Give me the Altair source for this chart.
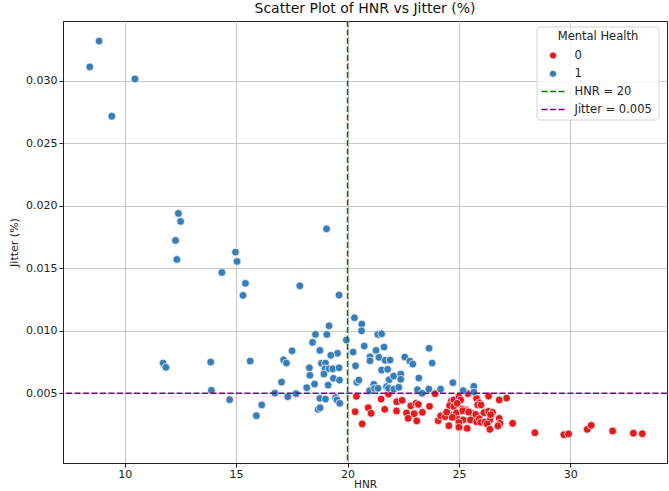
import altair as alt
import pandas as pd

# Mental Health = 0
hnr_0 = [20.40, 20.34, 20.66, 20.93, 21.06, 21.51, 21.84, 21.67, 22.21, 22.45,
         22.20, 22.84, 23.07, 23.18, 22.65, 22.99, 22.72, 23.11, 23.36, 23.68,
         23.93, 24.07, 24.18, 24.38, 24.55, 24.65, 24.77, 24.58, 24.77, 24.76,
         24.89, 25.01, 25.08, 24.92, 25.16, 25.34, 24.95, 25.19, 25.01, 25.37,
         24.70, 25.00, 25.41, 25.39, 25.79, 25.91, 25.84, 25.99, 25.60, 25.75,
         25.52, 25.79, 25.91, 26.12, 26.33, 26.51, 25.99, 26.17, 26.33, 26.42,
         26.39, 26.27, 26.39, 26.81, 26.84, 26.75, 26.81, 27.14, 27.41, 28.41,
         29.71, 29.92, 30.76, 30.94, 31.90, 32.83, 33.23, 25.17, 25.44, 26.42,
         25.00, 24.45]
jit_0 = [0.00476, 0.00353, 0.00255, 0.00385, 0.00340, 0.00454, 0.00494, 0.00372, 0.00433, 0.00444,
         0.00359, 0.00400, 0.00420, 0.00411, 0.00343, 0.00337, 0.00300, 0.00279, 0.00348, 0.00396,
         0.00497, 0.00281, 0.00319, 0.00313, 0.00241, 0.00436, 0.00447, 0.00401, 0.00394, 0.00327,
         0.00343, 0.00473, 0.00447, 0.00420, 0.00375, 0.00367, 0.00292, 0.00287, 0.00225, 0.00220,
         0.00308, 0.00266, 0.00497, 0.00356, 0.00460, 0.00425, 0.00407, 0.00407, 0.00340, 0.00332,
         0.00287, 0.00273, 0.00297, 0.00345, 0.00356, 0.00348, 0.00268, 0.00271, 0.00478, 0.00319,
         0.00287, 0.00255, 0.00212, 0.00300, 0.00260, 0.00239, 0.00447, 0.00462, 0.00260, 0.00185,
         0.00169, 0.00175, 0.00212, 0.00244, 0.00199, 0.00181, 0.00177, 0.00361, 0.00351, 0.00330,
         0.00229, 0.00350]

# Mental Health = 1
hnr_1 = [8.85, 8.43, 10.46, 9.42, 12.41, 12.51, 12.28, 12.34, 14.97, 15.04,
         14.36, 15.42, 15.31, 11.72, 11.85, 13.86, 13.89, 14.71, 15.63, 16.15,
         15.91, 16.74, 17.13, 17.26, 17.04, 17.32, 19.06, 17.86, 19.62, 20.31,
         20.64, 20.63, 19.17, 18.56, 19.07, 18.43, 19.95, 21.36, 21.53, 20.75,
         21.64, 17.51, 18.76, 19.55, 19.25, 20.25, 21.28, 21.01, 21.01, 21.41,
         21.69, 21.91, 22.57, 22.80, 22.93, 23.66, 23.80, 18.29, 18.83, 19.01,
         18.99, 19.17, 19.34, 19.62, 20.36, 18.31, 18.94, 19.37, 19.64, 18.52,
         19.13, 18.17, 17.69, 18.76, 19.01, 19.47, 19.53, 19.65, 18.68, 18.77,
         20.42, 20.51, 20.99, 21.18, 21.21, 21.37, 21.53, 21.80, 21.87, 21.75,
         21.84, 22.07, 22.39, 22.39, 22.08, 22.30, 23.20, 23.14, 23.35, 23.65,
         24.18, 24.73, 25.19, 25.67, 25.67]
jit_1 = [0.03316, 0.03109, 0.03013, 0.02715, 0.01938, 0.01874, 0.01722, 0.01570, 0.01629, 0.01554,
         0.01466, 0.01379, 0.01283, 0.00742, 0.00708, 0.00750, 0.00524, 0.00449, 0.00758, 0.00407,
         0.00321, 0.00502, 0.00768, 0.00742, 0.00590, 0.00473, 0.01815, 0.01359, 0.01285, 0.01104,
         0.01054, 0.01000, 0.01040, 0.00971, 0.00971, 0.00907, 0.00926, 0.00971, 0.00976, 0.00878,
         0.00870, 0.00840, 0.00843, 0.00820, 0.00804, 0.00830, 0.00843, 0.00792, 0.00760, 0.00788,
         0.00764, 0.00766, 0.00790, 0.00758, 0.00734, 0.00860, 0.00742, 0.00704, 0.00740, 0.00742,
         0.00696, 0.00696, 0.00696, 0.00704, 0.00720, 0.00644, 0.00654, 0.00620, 0.00606, 0.00574,
         0.00566, 0.00545, 0.00497, 0.00460, 0.00454, 0.00465, 0.00447, 0.00420, 0.00372, 0.00385,
         0.00588, 0.00606, 0.00521, 0.00572, 0.00540, 0.00540, 0.00686, 0.00692, 0.00609, 0.00553,
         0.00540, 0.00638, 0.00654, 0.00612, 0.00534, 0.00548, 0.00622, 0.00529, 0.00500, 0.00534,
         0.00534, 0.00585, 0.00521, 0.00556, 0.00510]

x_ticks = [10, 15, 20, 25, 30]
y_ticks = [0.005, 0.010, 0.015, 0.020, 0.025, 0.030]
hnr_cut = 20
jitter_cut = 0.005
groups = ["0", "1"]
group_colors = ["#e41a1c", "#377eb8"]
legend_title = "Mental Health"
line_labels = ["HNR = 20", "Jitter = 0.005"]
line_colors = ["green", "purple"]

df = pd.DataFrame({
    "HNR": hnr_0 + hnr_1,
    "Jitter": jit_0 + jit_1,
    "Mental Health": [groups[0]] * len(hnr_0) + [groups[1]] * len(hnr_1),
})
one = pd.DataFrame({"k": [0]})

x_scale = alt.Scale(domain=[7.23, 34.34], nice=False, zero=False)
y_scale = alt.Scale(domain=[-0.00057, 0.03476], nice=False, zero=False)

points = alt.Chart(df).mark_circle(
    size=60, opacity=1, stroke="white", strokeWidth=0.7
).encode(
    x=alt.X("HNR:Q", scale=x_scale,
            axis=alt.Axis(values=x_ticks, format="d", title="HNR")),
    y=alt.Y("Jitter:Q", scale=y_scale,
            axis=alt.Axis(values=y_ticks, format=".3f", title="Jitter (%)")),
    color=alt.Color("Mental Health:N",
                    scale=alt.Scale(domain=groups, range=group_colors),
                    legend=None),
)

vline = alt.Chart(one).mark_rule(
    color=line_colors[0], strokeWidth=1.5, strokeDash=[6, 2.5]
).encode(x=alt.datum(hnr_cut))

hline = alt.Chart(one).mark_rule(
    color=line_colors[1], strokeWidth=1.5, strokeDash=[6, 2.5]
).encode(y=alt.datum(jitter_cut))

# legend drawn by hand so the point keys and the line keys share one box
box = alt.Chart(one).mark_rect(
    fill="white", fillOpacity=0.85, stroke="#d4d4d4", strokeWidth=1, cornerRadius=3
).encode(x=alt.value(474), x2=alt.value(596), y=alt.value(6), y2=alt.value(99))

leg_title = alt.Chart(one).mark_text(
    fontSize=11.5, align="center", baseline="middle", color="#222222"
).encode(x=alt.value(535), y=alt.value(16), text=alt.value(legend_title))

leg_layers = [box, leg_title]
for i, (g, c) in enumerate(zip(groups, group_colors)):
    yy = 34.5 + i * 18.3
    leg_layers.append(
        alt.Chart(one).mark_circle(size=50, opacity=1, color=c, stroke="white", strokeWidth=0.7)
        .encode(x=alt.value(490), y=alt.value(yy))
    )
    leg_layers.append(
        alt.Chart(one).mark_text(fontSize=11.5, align="left", baseline="middle", color="#222222")
        .encode(x=alt.value(511.5), y=alt.value(yy), text=alt.value(g))
    )
for i, (lab, c) in enumerate(zip(line_labels, line_colors)):
    yy = 70.5 + i * 18.0
    leg_layers.append(
        alt.Chart(one).mark_rule(color=c, strokeWidth=1.5, strokeDash=[6, 2.5])
        .encode(x=alt.value(478.5), x2=alt.value(502), y=alt.value(yy))
    )
    leg_layers.append(
        alt.Chart(one).mark_text(fontSize=11.5, align="left", baseline="middle", color="#222222")
        .encode(x=alt.value(511.5), y=alt.value(yy), text=alt.value(lab))
    )

chart = alt.layer(points, vline, hline, *leg_layers).properties(
    width=604,
    height=442,
    title=alt.TitleParams("Scatter Plot of HNR vs Jitter (%)", fontSize=14,
                          fontWeight="normal", anchor="middle", offset=4,
                          color="#111111"),
    autosize=alt.AutoSizeParams(type="none"),
    padding={"left": 63, "top": 21, "right": 2, "bottom": 28},
).configure(
    font="DejaVu Sans",
    background="white",
).configure_view(
    stroke="#222222", strokeWidth=1,
).configure_axis(
    labelFontSize=11, titleFontSize=11, labelColor="#222222", titleColor="#222222",
    titleFontWeight="normal", tickColor="#222222", tickSize=4, domainColor="#222222",
    gridColor="#c8c8c8", gridWidth=1,
).configure_axisX(
    labelPadding=1, titlePadding=0, titleFontSize=10.5,
).configure_axisY(labelPadding=2, titlePadding=6)

chart.save("out.html", embed_options={"renderer": "svg", "actions": False})
